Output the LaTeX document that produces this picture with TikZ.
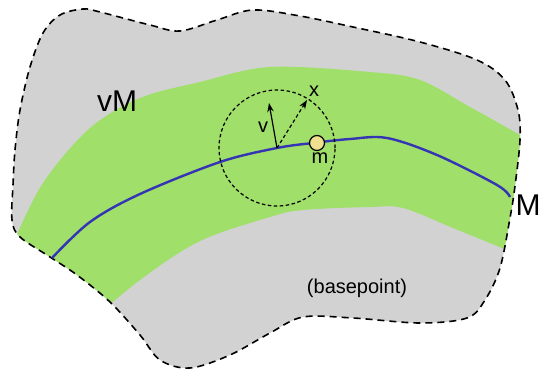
\documentclass[tikz,border=0pt]{standalone}
\usepackage{fontspec}
\setmainfont{Liberation Sans}
\usetikzlibrary{arrows.meta}
\definecolor{regiongray}{HTML}{D2D2D2}
\definecolor{bandgreen}{HTML}{9FDF6A}
\definecolor{curveblue}{HTML}{3434B4}
\definecolor{dotyellow}{HTML}{EEE08E}
\tikzset{
  outline/.style={draw=black, line width=1.6pt, dash pattern=on 7pt off 5pt},
  ballline/.style={draw=black, line width=1.2pt, dash pattern=on 3.5pt off 2.5pt},
  bigtext/.style={font=\fontsize{30}{34}\selectfont, inner sep=0pt},
  smalltext/.style={font=\fontsize{20}{24}\selectfont, inner sep=0pt},
  vecarrow/.style={-{Stealth[length=9pt,width=6.5pt]}, line width=1.2pt},
}
\begin{document}
\begin{tikzpicture}[x=1pt,y=-1pt]
\useasboundingbox (0,0) rectangle (540,371);
\def\outlinepath{plot[smooth cycle, tension=0.55] coordinates {
  (13,185) (15,150) (20,110) (30,67) (43,33) (60,15) (83,9) (100,12) (150,25) (180,31)
  (217,20) (253,10) (300,16) (353,27) (420,42) (477,60) (505,80) (518,110) (520,140)
  (515,186) (510,218) (500,268) (485,300) (467,318) (420,323) (353,318) (303,317) (270,333)
  (230,355) (190,368) (160,360) (140,335) (110,302) (77,275) (50,257) (20,237) (12,220)}}
% gray region
\fill[regiongray] \outlinepath;
% green band clipped to region
\begin{scope}
  \clip \outlinepath;
  \fill[bandgreen] plot[smooth, tension=0.55] coordinates {
    (0,275) (18,232) (45,180) (90,128) (140,98) (200,82) (270,67) (370,72) (420,80) (470,107) (520,135) (550,152)}
    -- plot[smooth, tension=0.55] coordinates {
    (550,268) (502,248) (453,228) (403,208) (370,207) (303,210) (270,217) (200,241) (140,280) (80,330)}
    -- cycle;
\end{scope}
% outline
\draw[outline] \outlinepath;
% curve M
\draw[curveblue, line width=2.4pt] plot[smooth, tension=0.55] coordinates {
  (52,258) (90,222) (140,194) (220,162) (277,148) (313,143) (350,139) (387,138) (437,155) (497,185) (510,197)};
% ball
\node[circle, ballline, minimum size=116pt, inner sep=0pt] (ball) at (277,148) {};
\coordinate (base) at (277,148);
\coordinate (vtip) at (269,103);
\coordinate (xtip) at (307,100);
\draw[vecarrow] (base) -- (vtip);
\draw[vecarrow, dash pattern=on 3.5pt off 2.5pt] (base) -- (xtip);
% base point
\node[circle, draw=black, line width=1.2pt, fill=dotyellow, minimum size=15pt, inner sep=0pt] (m) at (317,143) {};
% labels
\node[bigtext] (vM) at (117,101) {vM};
\node[bigtext] (Mlab) at (528,205) {M};
\node[smalltext] (vlab) at (263,127) {v};
\node[smalltext] (xlab) at (314,91) {x};
\node[smalltext] (mlab) at (320,158) {m};
\node[smalltext] (bp) at (357,288) {(basepoint)};
\end{tikzpicture}
\end{document}
